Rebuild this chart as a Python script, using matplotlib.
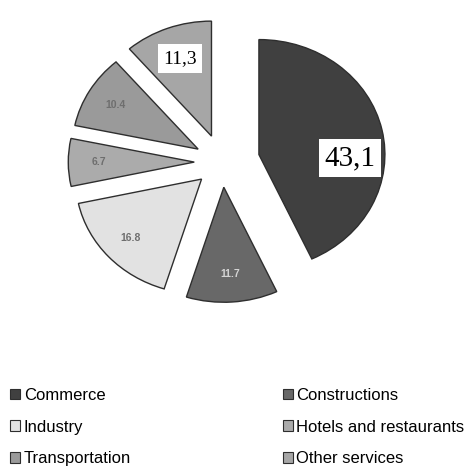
import numpy as np
import matplotlib

matplotlib.use("Agg")
import matplotlib.pyplot as plt
from matplotlib.patches import Patch

sectors = ["Commerce", "Constructions", "Industry", "Hotels and restaurants",
           "Transportation", "Other services"]
shares = [43.1, 11.7, 16.8, 6.7, 10.4, 11.3]
value_labels = ["43,1", "11.7", "16.8", "6.7", "10.4", "11,3"]
colors = ["#404040", "#686868", "#e2e2e2", "#ababab", "#9a9a9a", "#a6a6a6"]
explode = [0.30, 0.22, 0.22, 0.22, 0.22, 0.24]

W, H = 469, 468
cx, cy = 222, 162          # pie centre in pixels (from top-left)
rx, ry = 126, 115          # horizontal / vertical radius in pixels

fig = plt.figure(figsize=(W / 100, H / 100), dpi=100)
ax = fig.add_axes([0, 0, 1, 1])
wedges, _ = ax.pie(shares, colors=colors, explode=explode, startangle=90,
                   counterclock=False,
                   wedgeprops=dict(edgecolor="#2e2e2e", linewidth=1.0))
ax.set_aspect("auto")
ax.set_xlim(-cx / rx, (W - cx) / rx)
ax.set_ylim(-(H - cy) / ry, cy / ry)
ax.axis("off")

# value labels: two big serif boxed ones, the rest small bold sans
for i, (w, lab) in enumerate(zip(wedges, value_labels)):
    mid = np.deg2rad((w.theta1 + w.theta2) / 2)
    x0, y0 = w.center
    if lab == "43,1":
        x, y = x0 + 0.72, y0 - 0.03
        ax.text(x, y, lab, ha="center", va="center", family="Liberation Serif",
                fontsize=21, color="black",
                bbox=dict(facecolor="white", edgecolor="none", pad=4))
    elif lab == "11,3":
        f = 0.72
        x, y = x0 + f * np.cos(mid), y0 + f * np.sin(mid)
        ax.text(x, y, lab, ha="center", va="center", family="Liberation Serif",
                fontsize=14, color="black",
                bbox=dict(facecolor="white", edgecolor="none", pad=4))
    else:
        f = 0.76
        x, y = x0 + f * np.cos(mid), y0 + f * np.sin(mid)
        col = "#d4d4d4" if lab == "11.7" else "#6e6e6e"
        ax.text(x, y, lab, ha="center", va="center", family="Liberation Sans",
                fontsize=7.5, fontweight="bold", color=col)

# legend is filled row by row in the reference: reorder for column-major fill
order = [0, 2, 4, 1, 3, 5]
handles = [Patch(facecolor=colors[i], edgecolor="#2e2e2e", linewidth=0.8) for i in order]
names = [sectors[i] for i in order]
fig.legend(handles, names, loc="upper left", bbox_to_anchor=(-0.01, 0.203),
           ncol=2, frameon=False, handlelength=0.6, handleheight=0.6,
           handletextpad=0.2, columnspacing=9.1, labelspacing=1.0,
           prop=dict(family="Liberation Sans", size=12))

fig.savefig("out.png", dpi=100)
